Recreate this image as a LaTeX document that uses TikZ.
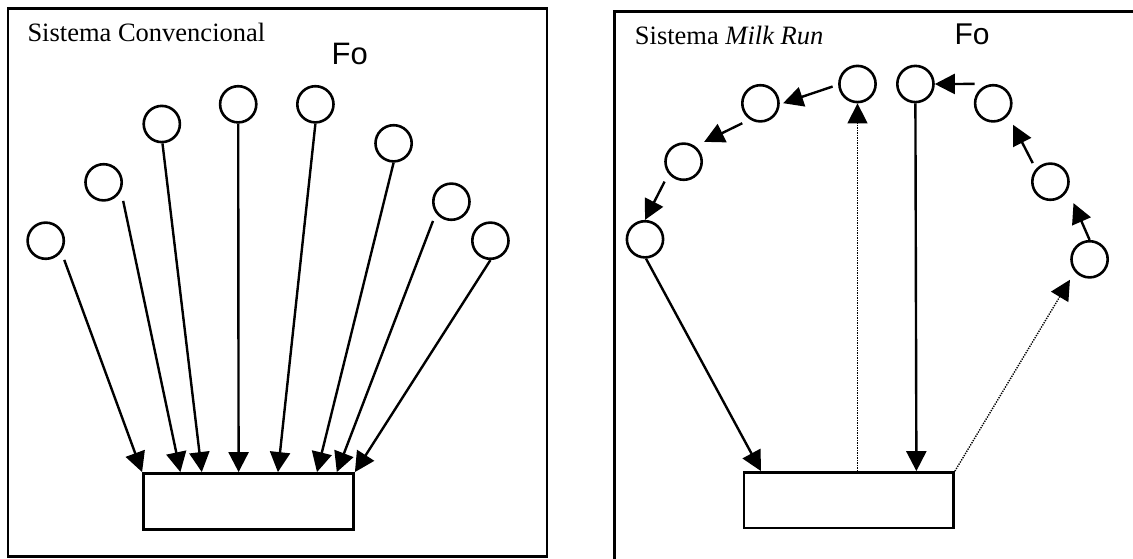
\documentclass[tikz,border=0pt]{standalone}
\usepackage{fontspec}
\setmainfont{Liberation Serif}
\newfontfamily\arialf{Liberation Sans}
\usetikzlibrary{arrows.meta}
\begin{document}
\begin{tikzpicture}[x=1pt,y=-1pt,
  frame/.style={draw,line width=2.6pt},
  stn/.style={circle,draw,line width=2.6pt,minimum size=36.2pt,inner sep=0pt},
  box/.style={draw,line width=2.5pt,inner sep=0pt},
  arr/.style={line width=2.4pt,-{Triangle[length=20pt,width=20pt]}},
  dotarr/.style={line width=1.4pt,dash pattern=on 1.3pt off 1.2pt,-{Triangle[length=20pt,width=20pt]}},
  lbl/.style={anchor=base west,inner sep=0pt,font=\fontsize{26.5}{30}\selectfont},
  fo/.style={anchor=base west,inner sep=0pt}
]
\useasboundingbox (0,0) rectangle (1133,559);
\clip (0,0) rectangle (1133,559);
\fill[white] (0,0) rectangle (1133,559);

% ---------------- left panel ----------------
\draw[frame] (8,8.5) rectangle (547,556.5);
\node[lbl] (tl) at (27.3,41.7) {Sistema Convencional};
\node[fo,font=\arialf\fontsize{31}{34}\selectfont] (fl) at (331.5,64.3) {Fo};

\node[stn] (c1) at (45.7,240.7) {};
\node[stn] (c2) at (103.6,182.3) {};
\node[stn] (c3) at (161.8,124) {};
\node[stn] (c4) at (238.2,104.3) {};
\node[stn] (c5) at (315.4,104.3) {};
\node[stn] (c6) at (393.6,143.3) {};
\node[stn] (c7) at (451.4,201.7) {};
\node[stn] (c8) at (490.4,240.7) {};

\node[box,minimum width=210.3pt,minimum height=56.3pt] (L) at (248.5,501.5) {};

\draw[arr,shorten <=8.3pt] (c1.-36) -- (L.north west);
\draw[arr,shorten <=10.3pt] (c2.-26) -- ([xshift=38.3pt]L.north west);
\draw[arr] (c3.-88) -- ([xshift=59.7pt]L.north west);
\draw[arr] (c4.south) -- ([xshift=96.5pt]L.north west);
\draw[arr] (c5.south) -- ([xshift=135.8pt]L.north west);
\draw[arr] (c6.south) -- ([xshift=174.9pt]L.north west);
\draw[arr,shorten <=8.1pt] (c7.217) -- ([xshift=194.7pt]L.north west);
\draw[arr] (c8.south) -- (L.north east);

% ---------------- right panel ----------------
\draw[frame] (614.6,11.7) rectangle (1160,580);
\node[lbl] (tr) at (634.7,45) {Sistema \textit{Milk Run}};
\node[fo,font=\arialf\fontsize{30}{33}\selectfont] (fr) at (954.3,44.3) {Fo};

\node[stn] (a) at (857.5,84) {};
\node[stn] (b) at (915.4,84) {};
\node[stn] (c) at (993.2,103.3) {};
\node[stn] (d) at (1050.4,181.7) {};
\node[stn] (e) at (1089.6,259.3) {};
\node[stn] (f) at (760.4,103.3) {};
\node[stn] (g) at (683.6,161.7) {};
\node[stn] (h) at (645,239.3) {};

\node[box,minimum width=209.8pt,minimum height=55.6pt] (R) at (848.75,500.15) {};

\draw[arr,shorten <=5.8pt,shorten >=3.5pt] (a.182.5) -- (f.-3.2);
\draw[arr,shorten <=8.4pt,shorten >=9.9pt] (f.237.6) -- (g.53.9);
\draw[arr,shorten <=8.6pt] (g.219.6) -- (h.north);
\draw[arr] (h.-87) -- ([xshift=18.4pt]R.north west);
\draw[dotarr] ([xshift=114.9pt]R.north west) -- (a.south);
\draw[arr] (b.south) -- ([xshift=173.8pt]R.north west);
\draw[dotarr,shorten >=9.3pt] (R.north east) -- (e.220.6);
\draw[arr,shorten >=14.1pt] (e.north) -- (d.-26.4);
\draw[arr,shorten <=6.6pt,shorten >=10.4pt] (d.139.8) -- (c.-39.8);
\draw[arr,shorten <=18.6pt] (c.north) -- (b.east);
\end{tikzpicture}
\end{document}
